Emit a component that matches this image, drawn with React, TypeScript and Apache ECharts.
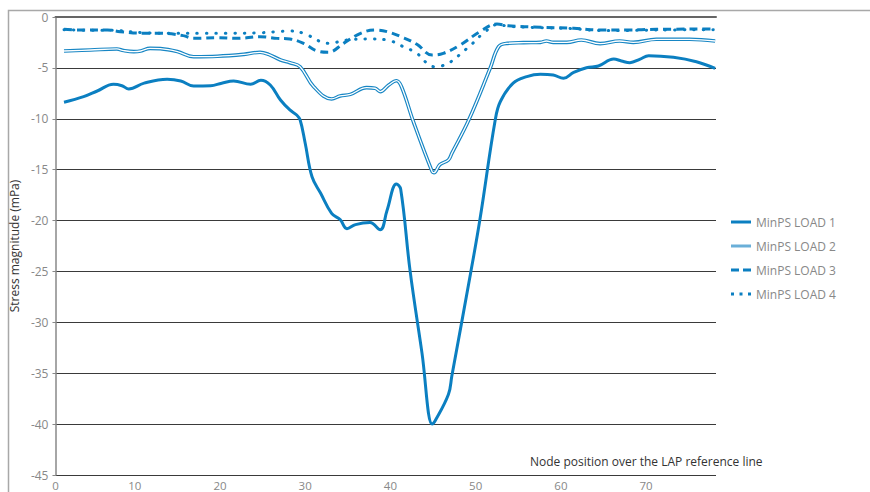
import React, { useEffect, useRef } from "react";
import * as echarts from "echarts";

// Node positions and stress values (mPa)
const load1X = [1.7, 4, 5.6, 7.5, 8.5, 9.3, 11.1, 13.8, 15.4, 16.9, 18.9, 20.2, 21.6, 23.6, 24.8, 25.9, 27.1, 28.2, 29, 29.4, 30, 30.8, 31.8, 33.1, 34.1, 34.9, 35.9, 37.6, 38.8, 39.6, 40.7, 41.2, 42.3, 43.7, 44.9, 45.2, 46.8, 47.2, 49.4, 50.5, 52.3, 52.9, 54.4, 56, 57.6, 59.1, 60.3, 61.5, 63, 64.4, 66.2, 67.1, 68.1, 69.3, 70.3, 73.2, 75.9, 78.1];
const load1Y = [-8.38, -7.83, -7.27, -6.61, -6.75, -7.07, -6.5, -6.12, -6.29, -6.78, -6.75, -6.5, -6.29, -6.61, -6.22, -6.68, -8.15, -9.13, -9.63, -10.1, -12.4, -15.7, -17.3, -19.3, -19.9, -20.8, -20.4, -20.2, -20.9, -19.0, -16.4, -16.9, -24.9, -33, -40, -39.75, -37.1, -35.3, -25.2, -19.9, -10.1, -8.3, -6.5, -5.86, -5.63, -5.7, -6.03, -5.44, -4.98, -4.81, -4.13, -4.32, -4.49, -4.13, -3.8, -3.96, -4.39, -5.04];

const load2X = [1.7, 4.8, 7.9, 8.7, 9.9, 10.7, 11.8, 13, 15, 16.9, 19.7, 22.8, 24.7, 25.7, 27.1, 28.2, 29.4, 31, 33.1, 34.1, 35.3, 37.2, 38.2, 38.8, 39.8, 40.7, 41.3, 42.7, 44.9, 45.1, 45.8, 46.8, 47.2, 49.2, 51.7, 52.7, 53.7, 55.6, 57.6, 58.3, 59.1, 60.7, 62.4, 64.6, 66.9, 68.5, 71.2, 75.1, 78.1];
const load2Y = [-3.34, -3.24, -3.14, -3.3, -3.4, -3.34, -3.08, -3.11, -3.4, -3.9, -3.86, -3.67, -3.47, -3.67, -4.22, -4.49, -4.88, -6.85, -8.05, -7.76, -7.6, -6.94, -7.0, -7.33, -6.68, -6.26, -6.85, -10.3, -15.2, -15.3, -14.5, -14.05, -13.4, -10.1, -5.04, -2.91, -2.59, -2.52, -2.49, -2.36, -2.49, -2.49, -2.26, -2.62, -2.36, -2.49, -2.19, -2.19, -2.36];

const load3X = [1.7, 4, 6.8, 8.3, 11.1, 13, 15.7, 16.9, 19.7, 22, 24.7, 26.7, 28.2, 29.8, 31.4, 32.7, 34.5, 36.5, 38.2, 39.6, 41.5, 43.1, 44.9, 46.2, 48.2, 50.5, 52.5, 53.7, 57.6, 61.5, 64.6, 67.7, 71.2, 78.1];
const load3Y = [-1.21, -1.28, -1.28, -1.44, -1.6, -1.6, -1.83, -2.1, -2.03, -2.1, -1.93, -2.1, -2.16, -2.59, -3.34, -3.47, -2.59, -1.6, -1.28, -1.44, -2.03, -2.68, -3.73, -3.57, -2.75, -1.44, -0.69, -0.85, -1.01, -1.11, -1.28, -1.28, -1.21, -1.18];

const load4X = [1.7, 4, 6.8, 11.1, 14.7, 17.7, 20.7, 24.7, 26.7, 28.2, 29.8, 31.8, 32.7, 34.9, 37.6, 39.6, 41.5, 43.1, 44.3, 45.1, 46, 49, 50.9, 52.7, 53.7, 57.6, 61.5, 64.6, 67.7, 71.2, 78.1];
const load4Y = [-1.25, -1.3, -1.3, -1.55, -1.6, -1.6, -1.6, -1.55, -1.44, -1.38, -1.6, -2.42, -2.59, -2.26, -2.16, -2.26, -2.91, -3.57, -4.55, -4.88, -4.81, -3.08, -1.6, -0.72, -0.9, -1.05, -1.15, -1.32, -1.32, -1.28, -1.25];

const xTickValues = [0.7, 10, 20, 30, 40, 50, 60, 70];
const xTickLabels = ["0", "10", "20", "30", "40", "50", "60", "70"];

const seriesNames = ["MinPS LOAD 1", "MinPS LOAD 2", "MinPS LOAD 3", "MinPS LOAD 4"];
const xTitle = "Node position over the LAP reference line";
const yTitle = "Stress magnitude (mPa)";

const pairs = (xs: number[], ys: number[]) => xs.map((x, i) => [x, ys[i]]);

const BLUE = "#0b7fc1";
const FONT = "'Open Sans', 'DejaVu Sans', sans-serif";

const ICON_SOLID = "path://M0,0H20V3H0Z";
const ICON_DASH = "path://M0,0H8V3H0Z M12,0H20V3H12Z";
const ICON_DOT = "path://M0,0H3V3H0Z M8.5,0H11.5V3H8.5Z M17,0H20V3H17Z";

export default function App() {
  const ref = useRef<HTMLDivElement>(null);
  useEffect(() => {
    if (!ref.current) return;
    const chart = echarts.init(ref.current, undefined, { renderer: "svg" });
    const base = {
      type: "line",
      symbol: "none",
      smooth: 0.4,
    };
    chart.setOption({
      animation: false,
      textStyle: { fontFamily: FONT },
      graphic: [
        {
          type: "rect",
          shape: { x: 8.5, y: 10.5, width: 1000, height: 1000 },
          style: { fill: "none", stroke: "#a8a8a8", lineWidth: 1.5 },
          silent: true,
        },
        {
          type: "text",
          x: 530,
          y: 461,
          style: {
            text: xTitle,
            fill: "#333",
            font: `12px ${FONT}`,
            verticalAlign: "middle",
          },
        },
      ],
      grid: { left: 55, top: 17, right: 154, bottom: 17, containLabel: false },
      legend: {
        orient: "vertical",
        left: 726,
        top: 210,
        itemWidth: 20,
        itemHeight: 3,
        itemGap: 10,
        textStyle: { color: "#888", fontSize: 12, fontFamily: FONT, lineHeight: 14 },
        data: [
          { name: seriesNames[0], icon: ICON_SOLID, itemStyle: { color: BLUE } },
          { name: seriesNames[1], icon: ICON_SOLID, itemStyle: { color: "#6aafd8" } },
          { name: seriesNames[2], icon: ICON_DASH, itemStyle: { color: BLUE } },
          { name: seriesNames[3], icon: ICON_DOT, itemStyle: { color: BLUE } },
        ],
      },
      xAxis: {
        type: "value",
        min: 0.7,
        max: 78.2,
        axisLine: { show: true, lineStyle: { color: "#666", width: 2 } },
        axisTick: { show: false },
        splitLine: { show: false },
        axisLabel: {
          color: "#888",
          fontSize: 11.5,
          margin: 4,
          customValues: xTickValues,
          formatter: (v: number) => {
            const i = xTickValues.indexOf(v);
            return i >= 0 ? xTickLabels[i] : "";
          },
        },
      },
      yAxis: {
        type: "value",
        min: -45,
        max: 0,
        interval: 5,
        name: yTitle,
        nameLocation: "middle",
        nameGap: 35,
        nameTextStyle: { color: "#333", fontSize: 12, fontFamily: FONT },
        axisLine: { show: true, lineStyle: { color: "#888", width: 1.5 } },
        axisTick: { show: true, inside: false, length: 3, lineStyle: { color: "#888" } },
        splitLine: { show: true, lineStyle: { color: "#3a3a3a", width: 1 } },
        axisLabel: { color: "#888", fontSize: 12, margin: 7 },
      },
      series: [
        {
          ...base,
          name: seriesNames[0],
          data: pairs(load1X, load1Y),
          lineStyle: { color: BLUE, width: 3 },
          itemStyle: { color: BLUE },
          z: 5,
        },
        {
          ...base,
          name: seriesNames[1],
          data: pairs(load2X, load2Y),
          lineStyle: { color: "#1786c4", width: 3.6 },
          itemStyle: { color: "#1786c4" },
          z: 3,
        },
        {
          ...base,
          name: "load2-inner",
          data: pairs(load2X, load2Y),
          lineStyle: { color: "#ffffff", width: 1.3 },
          itemStyle: { color: "#ffffff" },
          z: 4,
        },
        {
          ...base,
          name: seriesNames[2],
          data: pairs(load3X, load3Y),
          lineStyle: { color: BLUE, width: 3, type: [8, 5] },
          itemStyle: { color: BLUE },
          z: 4,
        },
        {
          ...base,
          name: seriesNames[3],
          data: pairs(load4X, load4Y),
          lineStyle: { color: BLUE, width: 3, type: [0.5, 9], cap: "round" },
          itemStyle: { color: BLUE },
          z: 4,
        },
      ],
    });
    return () => chart.dispose();
  }, []);
  return (
    <div
      ref={ref}
      style={{ position: "fixed", left: 0, top: 0, width: 870, height: 492, background: "#fff" }}
    />
  );
}
